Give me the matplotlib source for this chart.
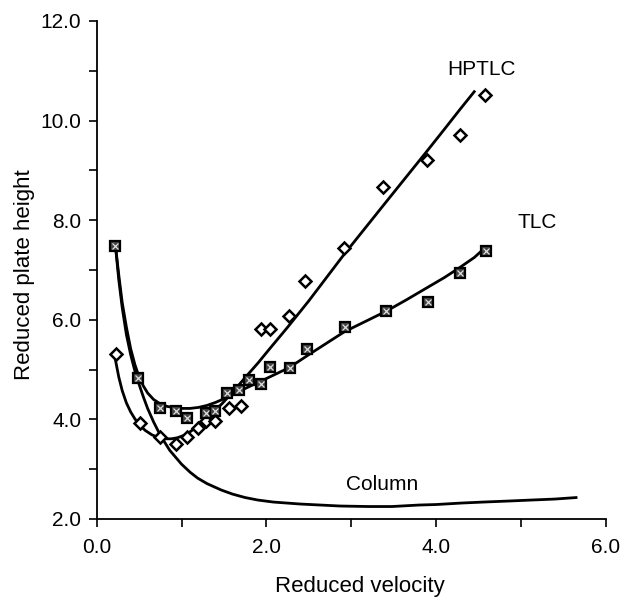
import matplotlib
matplotlib.use('Agg')
import matplotlib.pyplot as plt
import matplotlib.ticker as mticker

plt.rcParams['font.family'] = ['Liberation Sans', 'DejaVu Sans']

# measured points
hptlc_x = [0.23, 0.51, 0.75, 0.93, 1.07, 1.19, 1.29, 1.40, 1.56, 1.70, 1.94, 2.04, 2.27, 2.45, 2.91, 3.38, 3.89, 4.28, 4.58]
hptlc_y = [5.31, 3.92, 3.65, 3.51, 3.64, 3.82, 3.97, 3.97, 4.22, 4.26, 5.81, 5.81, 6.08, 6.77, 7.44, 8.66, 9.21, 9.71, 10.51]

tlc_x = [0.22, 0.49, 0.75, 0.93, 1.07, 1.29, 1.40, 1.53, 1.68, 1.80, 1.94, 2.04, 2.28, 2.48, 2.93, 3.41, 3.90, 4.28, 4.59]
tlc_y = [7.48, 4.84, 4.22, 4.16, 4.02, 4.12, 4.16, 4.52, 4.59, 4.79, 4.72, 5.06, 5.03, 5.41, 5.86, 6.18, 6.35, 6.93, 7.39]

# fitted curves
hptlc_fit_x = [0.22, 0.26, 0.30, 0.35, 0.40, 0.45, 0.50, 0.57, 0.65, 0.72, 0.80, 0.88, 0.95, 1.03, 1.10, 1.18, 1.25, 1.33,
               1.40, 1.48, 1.55, 1.65, 1.75, 1.90, 2.03, 2.25, 2.50, 2.91, 3.38, 3.89, 4.10, 4.28, 4.45]
hptlc_fit_y = [5.20, 4.85, 4.58, 4.33, 4.15, 4.01, 3.90, 3.78, 3.69, 3.64, 3.61, 3.61, 3.63, 3.68, 3.75, 3.85, 3.95, 4.07,
               4.19, 4.32, 4.45, 4.64, 4.84, 5.13, 5.40, 5.85, 6.38, 7.30, 8.30, 9.38, 9.83, 10.22, 10.58]

tlc_fit_x = [0.22, 0.26, 0.30, 0.35, 0.40, 0.45, 0.50, 0.55, 0.60, 0.67, 0.75, 0.83, 0.90, 1.00, 1.10, 1.20, 1.30, 1.40,
             1.55, 1.70, 1.85, 2.00, 2.27, 2.50, 2.92, 3.41, 3.65, 3.90, 4.10, 4.28, 4.45, 4.58]
tlc_fit_y = [7.50, 6.90, 6.35, 5.85, 5.42, 5.10, 4.85, 4.67, 4.53, 4.40, 4.31, 4.26, 4.24, 4.22, 4.22, 4.24, 4.28, 4.34,
             4.45, 4.58, 4.70, 4.82, 5.04, 5.30, 5.76, 6.17, 6.40, 6.65, 6.85, 7.05, 7.25, 7.45]

col_x = [0.22, 0.26, 0.30, 0.35, 0.40, 0.45, 0.50, 0.55, 0.60, 0.67, 0.75, 0.86, 1.00, 1.10, 1.19, 1.30, 1.47, 1.60,
         1.75, 1.90, 2.08, 2.40, 2.87, 3.20, 3.48, 3.80, 4.00, 4.30, 4.56, 4.85, 5.12, 5.40, 5.65]
col_y = [7.50, 6.80, 6.25, 5.70, 5.30, 4.97, 4.70, 4.45, 4.22, 3.95, 3.68, 3.38, 3.10, 2.94, 2.82, 2.71, 2.58, 2.50,
         2.43, 2.38, 2.34, 2.30, 2.26, 2.25, 2.25, 2.28, 2.29, 2.32, 2.34, 2.36, 2.38, 2.40, 2.43]

fig = plt.figure(figsize=[6.2, 5.99], dpi=100)
ax = fig.add_axes([0.156, 0.1336, 0.821, 0.8314])

ax.plot(col_x, col_y, color='black', linewidth=2.0)
ax.plot(tlc_fit_x, tlc_fit_y, color='black', linewidth=2.0)
ax.plot(hptlc_fit_x, hptlc_fit_y, color='black', linewidth=2.0)

ax.plot(hptlc_x, hptlc_y, linestyle='none', marker='D', markersize=6,
        markerfacecolor='white', markeredgecolor='black', markeredgewidth=1.8)
ax.plot(tlc_x, tlc_y, linestyle='none', marker='s', markersize=7,
        markerfacecolor='#444444', markeredgecolor='black', markeredgewidth=1.6)
ax.plot(tlc_x, tlc_y, linestyle='none', marker='x', markersize=4,
        color='#dddddd', markeredgewidth=0.9)

ax.text(4.53, 11.03, 'HPTLC', fontsize=15, ha='center', va='center')
ax.text(5.19, 7.96, 'TLC', fontsize=15, ha='center', va='center')
ax.text(3.36, 2.70, 'Column', fontsize=15, ha='center', va='center')

ax.set_xlim(0, 6)
ax.set_ylim(2, 12)

ax.xaxis.set_major_locator(mticker.MultipleLocator(2))
ax.xaxis.set_minor_locator(mticker.MultipleLocator(1))
ax.yaxis.set_major_locator(mticker.MultipleLocator(2))
ax.yaxis.set_minor_locator(mticker.MultipleLocator(1))
ax.xaxis.set_major_formatter(mticker.FormatStrFormatter('%.1f'))
ax.yaxis.set_major_formatter(mticker.FormatStrFormatter('%.1f'))

for s in ['top', 'right']:
    ax.spines[s].set_visible(False)
for s in ['left', 'bottom']:
    ax.spines[s].set_linewidth(1.3)

ax.tick_params(which='both', direction='out', length=6, width=1.2, labelsize=15)
ax.tick_params(axis='x', pad=8)
ax.tick_params(axis='y', pad=5)

fig.text(0.581, 0.004, 'Reduced velocity', fontsize=16, ha='center', va='bottom')
fig.text(0.040, 0.541, 'Reduced plate height', fontsize=16, ha='center', va='center', rotation=90)

fig.savefig('out.png', dpi=100)
